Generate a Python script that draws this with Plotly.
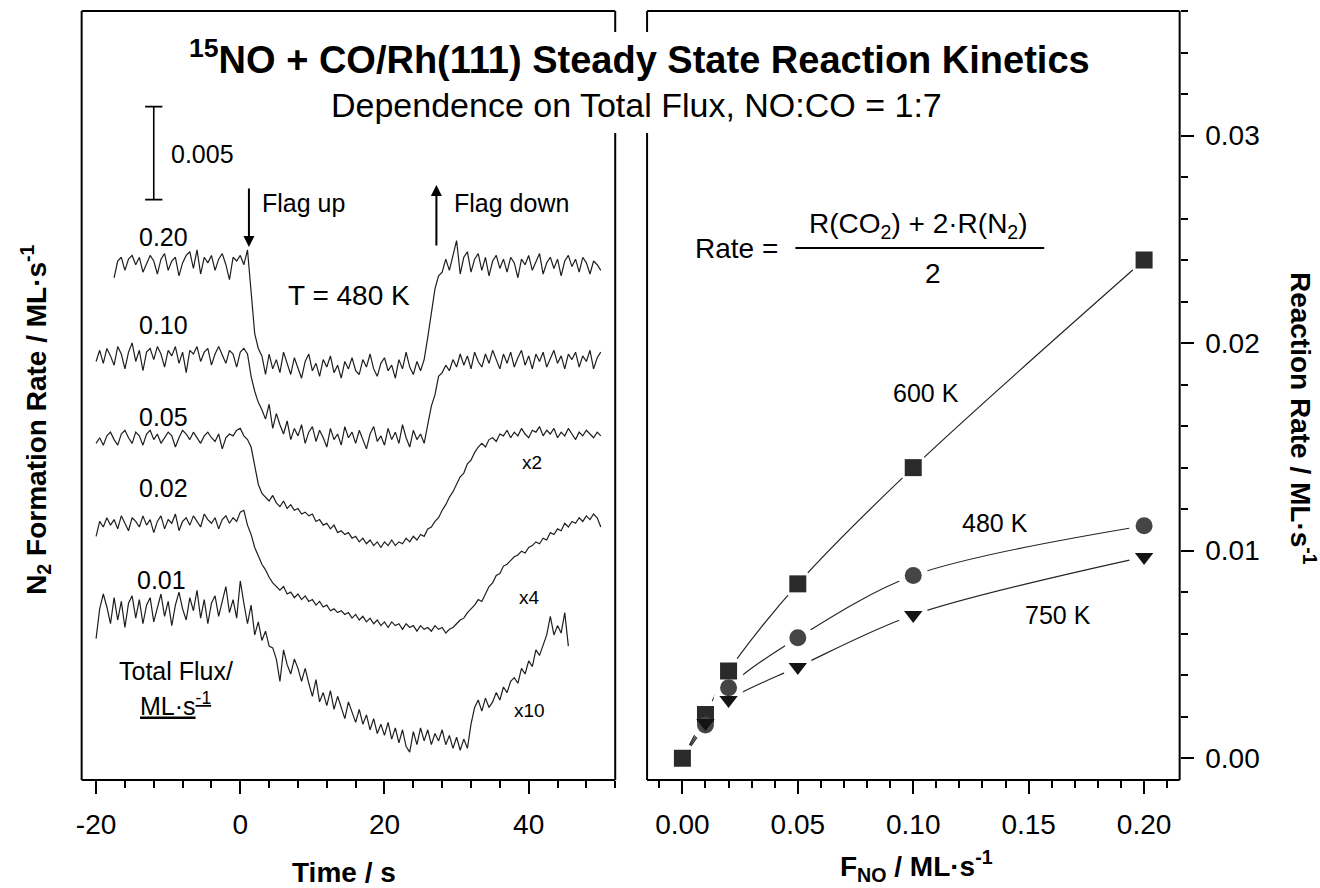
import numpy as np
import plotly.graph_objects as go

W, H = 1320, 888
FONT = "Liberation Sans, Arial, Helvetica, sans-serif"

# ---------------- Left panel: N2 formation transients, T = 480 K ----------------
FLUX_LABELS = ["0.20", "0.10", "0.05", "0.02", "0.01"]
MULTIPLIERS = ["", "", "x2", "x4", "x10"]
# stacked baselines (display units: 1e-4 ML s^-1, arbitrary offsets)
OFFSETS = [276, 227, 183, 137, 90]
START_TIMES = [-17.5, -20.0, -20.0, -20.0, -20.0]
DT = 0.5
SCALE_BAR = 0.005  # ML s^-1
TIME_TICKS = [-20, 0, 20, 40]
TIME_TICK_TEXT = ["-20", "0", "20", "40"]

# deviations from baseline, 1e-4 ML s^-1 as displayed
TRACE_020 = [-6, 3, 5, -2, 4, 6, 1, 5, -3, 2, 6, 3, -4, 4, 7, -2, 3, 5, -5, 2, 6, 8, -1, 9, -4, 5, 2, 6, -2, 4, 7, 1, -7, 5, 3, 6, 1,
             9, -12, -36, -44, -48, -58, -47, -55, -50, -57, -46, -52, -58, -49, -54, -60, -51, -47, -56, -52, -59, -50, -54, -48,
             -57, -53, -60, -51, -55, -49, -56, -58, -50, -54, -47, -55, -59, -52, -49, -56, -53, -60, -50, -55, -46, -54, -58,
             -51, -56, -50,
             -38, -24, -12, -5, -3, 4, -2, 6, 14, -4, 5, 8, -3, 4, 7, -2, 5, -5, 3, 6, -1, 4, -3, 5, 2, -6, 4, 1, 6, -2, 3, 7,
             -4, 2, 5, -1, 4, -5, 3, 6, 0, 4, -3, 5, 2, -4, 3, 1, -2]
TRACE_010 = [-2, 4, -3, 5, 1, -4, 6, 2, -6, 3, 8, -2, 4, -7, 3, 5, -1, 6, 2, -5, 4, 1, 6, -3, 3, -8, 4, 2, 6, -2, 3, 5, -4, 2,
             6, 1, -3, 4, 2, -5, 3, 5, 2,
             -10, -18, -24, -28, -33, -25, -38, -30, -36, -41, -34, -44, -38, -42, -36, -46, -40, -37, -45, -39, -43, -48, -38,
             -44, -41, -47, -37, -43, -40, -46, -39, -44, -49, -41, -37, -45, -42, -47, -38, -44, -40, -46, -36, -43, -48, -39,
             -44, -41, -46,
             -36, -26, -20, -10, -8, -4, -7, -1, -5, 2, -4, 1, -6, 3, -2, -5, 2, -3, 4, -1, -6, 2, -3, 3, -5, 0, 4, -4, 1, -6,
             2, -2, 3, -5, 0, 4, -3, 1, -6, 2, -1, 3, -5, 1, -2, 4, -6, 0, 3]
TRACE_005 = [-2, 1, -3, 2, 4, 0, -3, 3, 5, 1, -2, 4, 2, -3, 3, 5, 0, 3, -2, 1, 4, 2, -4, 1, 5, 3, 0, 4, 1, -2, 2, 4, 1, -1,
             3, -5, 1, 3, 2, 5, 6, 2, 0,
             -4, -14, -24, -29, -31, -33, -30, -34, -36, -33, -37, -35, -38, -37, -40, -39, -41, -40, -44, -43, -46, -45, -48,
             -46, -50, -49, -51, -50, -53, -52, -55, -53, -56, -54, -57, -55, -58, -55, -57, -54, -57, -55, -56, -53, -55, -52,
             -54, -51, -52, -48, -47, -44, -42, -38, -35, -31, -28, -24, -20, -18, -13, -11, -7, -4, -2, -4, 0, 1, -1, 3, 2, 5,
             1, 4, 2, 6, 3, 1, 5, 4, 7, 2, 5, 3, 6, 1, 4, 2, 6, 3, 0, 4, 2, 5, 3, 1, 4, 2]
TRACE_002 = [-6, 2, -1, 4, 0, 3, -2, 5, 1, -3, 4, 2, -1, 5, 0, 3, -4, 2, 5, -2, 3, 1, 6, -3, 2, 4, 0, 5, 2, -1, 6, 3, 1, 4,
             -2, 3, 5, 1, 4, 2, 7, 8, 0,
             -5, -12, -17, -21, -24, -28, -31, -33, -35, -33, -37, -36, -39, -37, -40, -38, -41, -40, -43, -41, -44, -43, -46,
             -45, -47, -46, -48, -47, -50, -48, -51, -49, -52, -50, -53, -51, -54, -52, -55, -52, -54, -53, -56, -53, -55, -54,
             -57, -54, -56, -55, -57, -54, -56, -55, -58, -56, -55, -53, -51, -50, -47, -45, -43, -40, -41, -37, -33, -31, -27,
             -26, -22, -21, -19, -17, -16, -14, -15, -12, -11, -9, -10, -7, -8, -4, -5, -2, -3, 1, -1, 2, 1, 4, 2, 5, 3, 6, 4, -1]
TRACE_001 = [-14, 2, 10, 3, -6, 8, -4, 6, -8, 5, 9, -3, 7, -6, 4, 8, -5, 3, 10, -2, 6, -7, 4, 11, 2, -4, 8, 1, 12, -3, 7, -6,
             5, 9, -2, 6, 14, 0, 7, -3, 17, 5, -6,
             4, -12, -5, -15, -10, -18, -19, -25, -37, -20, -28, -33, -25, -30, -37, -30, -38, -45, -36, -48, -43, -50, -42,
             -52, -45, -51, -57, -48, -54, -59, -52, -60, -55, -63, -57, -65, -60, -66, -59, -68, -62, -70, -63, -72, -75, -64,
             -71, -62, -69, -63, -71, -65, -69, -63, -71, -66, -73, -67, -74, -68, -73, -60, -51, -47, -53, -46, -51, -48, -43,
             -47, -40, -43, -37, -35, -38, -30, -33, -26, -29, -20, -23, -18, -12, -2, -12, -7, -11, 0, -18]
TRACES = [TRACE_020, TRACE_010, TRACE_005, TRACE_002, TRACE_001]

# ---------------- Right panel: steady-state reaction rate ----------------
F_NO = [0.0, 0.01, 0.02, 0.05, 0.10, 0.20]
RATE_600K = [0.0, 0.0021, 0.0042, 0.0084, 0.0140, 0.0240]
RATE_480K = [0.0, 0.0016, 0.0034, 0.0058, 0.0088, 0.0112]
RATE_750K = [0.0, 0.0017, 0.0028, 0.0044, 0.0069, 0.0097]
SERIES = [
    ("600 K", RATE_600K, "square", 17, "#2a2a2a", 0),
    ("480 K", RATE_480K, "circle", 17, "#454545", 1),
    ("750 K", RATE_750K, "triangle-down", 16, "#141414", 1),
]


def px(x):
    return x / W


def py(y):
    return 1 - y / H


XL = (76, 612)
XR = (644, 1179)
YT, YB = 11, 780

fig = go.Figure()

# left traces
for vals, off, t0 in zip(TRACES, OFFSETS, START_TIMES):
    v = np.array(vals, dtype=float)
    t = t0 + DT * np.arange(len(v))
    fig.add_trace(go.Scatter(x=t, y=off + v, mode="lines", xaxis="x", yaxis="y",
                             line=dict(color="#1e1e1e", width=1.2), hoverinfo="skip"))

# scale bar (0.005 ML s^-1)
sb_len = SCALE_BAR * 1e4
sb_x, sb_y0, sb_w = -12.0, 312.0, 1.2
fig.add_trace(go.Scatter(
    x=[sb_x - sb_w, sb_x + sb_w, None, sb_x, sb_x, None, sb_x - sb_w, sb_x + sb_w],
    y=[sb_y0 + sb_len, sb_y0 + sb_len, None, sb_y0 + sb_len, sb_y0, None, sb_y0, sb_y0],
    mode="lines", xaxis="x", yaxis="y", line=dict(color="black", width=1.6), hoverinfo="skip"))

# right: fitted curves
for name, rates, sym, size, col, skip in SERIES:
    fig.add_trace(go.Scatter(x=F_NO, y=rates, mode="lines", xaxis="x2", yaxis="y2",
                             line=dict(color="#262626", width=1.2, shape="spline", smoothing=0.9),
                             hoverinfo="skip"))
# white halos (gap between curve and symbol)
for name, rates, sym, size, col, skip in SERIES:
    fig.add_trace(go.Scatter(x=F_NO[skip:], y=rates[skip:], mode="markers", xaxis="x2", yaxis="y2",
                             marker=dict(symbol="circle", size=30, color="white", line=dict(width=0)),
                             hoverinfo="skip"))
for name, rates, sym, size, col, skip in SERIES:
    fig.add_trace(go.Scatter(x=F_NO[skip:], y=rates[skip:], mode="markers", xaxis="x2", yaxis="y2",
                             marker=dict(symbol=sym, size=size, color=col, line=dict(width=0)),
                             name=name))

tickfont = dict(family=FONT, size=28, color="black")
common_ticks = dict(ticks="outside", ticklen=13, tickwidth=2, tickcolor="black", showgrid=False,
                    zeroline=False, showline=False, tickfont=tickfont, ticklabelstandoff=6)

fig.update_layout(
    width=W, height=H, margin=dict(l=0, r=0, t=0, b=0),
    paper_bgcolor="white", plot_bgcolor="white", showlegend=False,
    xaxis=dict(domain=[px(XL[0]), px(XL[1])], range=[-22, 52], anchor="y", tickmode="array",
               tickvals=TIME_TICKS, ticktext=TIME_TICK_TEXT,
               minor=dict(tickmode="linear", tick0=0, dtick=4, ticklen=7, tickwidth=2, tickcolor="black",
                          ticks="outside"),
               **common_ticks),
    yaxis=dict(domain=[py(YB), py(YT)], range=[0, 413.4], visible=False, anchor="x"),
    xaxis2=dict(domain=[px(XR[0]), px(XR[1])], range=[-0.0153, 0.2154], anchor="y2", tick0=0, dtick=0.05,
                tickformat=".2f",
                minor=dict(dtick=0.01, ticklen=7, tickwidth=2, tickcolor="black", ticks="outside"),
                **common_ticks),
    yaxis2=dict(domain=[py(YB), py(YT)], range=[-0.00105, 0.036], anchor="x2", side="right", tick0=0,
                dtick=0.01, tickformat=".2f",
                minor=dict(dtick=0.002, ticklen=7, tickwidth=2, tickcolor="black", ticks="outside"),
                **common_ticks),
)

# frames (with gap for the title)
shapes = []


def seg(x0, y0, x1, y1, w=2):
    shapes.append(dict(type="line", xref="paper", yref="paper", x0=px(x0), y0=py(y0), x1=px(x1), y1=py(y1),
                       line=dict(color="black", width=w)))


seg(XL[0], YT, XL[1], YT)
seg(XL[0], YT, XL[0], YB)
seg(XL[0], YB, XL[1], YB)
seg(XL[1], YT, XL[1], 32)
seg(XL[1], 133, XL[1], YB)
seg(XR[0], YT, XR[1], YT)
seg(XR[1], YT, XR[1], YB)
seg(XR[0], YB, XR[1], YB)
seg(XR[0], YT, XR[0], 32)
seg(XR[0], 133, XR[0], YB)
# fraction bar of the rate formula
seg(793, 248, 1043, 248, 1.8)

annotations = []


def text(s, x, y, size, bold=False, xanchor="center", angle=0):
    if bold:
        s = f"<b>{s}</b>"
    annotations.append(dict(text=s, x=px(x), y=py(y), xref="paper", yref="paper", xanchor=xanchor,
                            yanchor="middle", showarrow=False, textangle=angle,
                            font=dict(family=FONT, size=size, color="black")))


text("<sup>15</sup>NO + CO/Rh(111) Steady State Reaction Kinetics", 636, 57, 38, bold=True)
text("Dependence on Total Flux, NO:CO = 1:7", 633, 105, 34)

label_pos = [(158, 237), (158, 325), (158, 417), (158, 488), (156, 580)]
for lab, (x, y) in zip(FLUX_LABELS, label_pos):
    text(lab, x, y, 25)
mult_pos = [None, None, (528, 463), (526, 597), (526, 710)]
for m, p in zip(MULTIPLIERS, mult_pos):
    if m:
        text(m, p[0], p[1], 19)

text("0.005", 164, 154, 25, xanchor="left")
text("Flag up", 255, 203, 25, xanchor="left")
text("Flag down", 448, 203, 25, xanchor="left")
text("T = 480 K", 345, 296, 28)
text("Total Flux/", 171, 671, 25)
text("<u>ML·s<sup>-1</sup></u>", 170, 704, 25)

text("600 K", 924, 393, 25)
text("480 K", 994, 523, 25)
text("750 K", 1057, 615, 25)
text("Rate =", 734, 248, 28)
text("R(CO<sub>2</sub>) + 2·R(N<sub>2</sub>)", 917, 225, 28)
text("2", 931, 273, 28)

text("Time / s", 340, 872, 28, bold=True)
text("F<sub>NO</sub> / ML·s<sup>-1</sup>", 915, 866, 28, bold=True)
text("N<sub>2</sub> Formation Rate / ML·s<sup>-1</sup>", 30, 420, 28, bold=True, angle=-90)
text("Reaction Rate / ML·s<sup>-1</sup>", 1303, 418, 28, bold=True, angle=90)

# flag arrows
for xt, yhead, dy in [(1.2, 247, -60), (27.2, 185, 62)]:
    annotations.append(dict(x=xt, y=py(yhead), xref="x", yref="paper", ax=0, ay=dy, text="",
                            showarrow=True, arrowhead=2, arrowsize=1.1, arrowwidth=2, arrowcolor="black"))

fig.update_layout(shapes=shapes, annotations=annotations)

fig.write_html("out.html", config={"displayModeBar": False},
               post_script="document.body.style.margin='0';document.body.style.overflow='hidden';")
